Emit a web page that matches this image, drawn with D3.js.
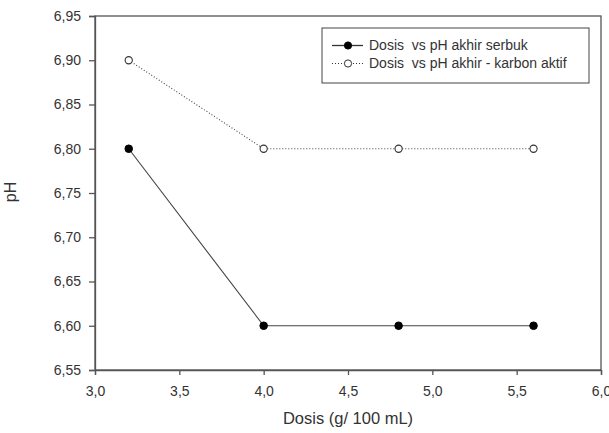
<!DOCTYPE html>
<html>
<head>
<meta charset="utf-8">
<script src="https://cdn.jsdelivr.net/npm/d3@7"></script>
<style>
  body { margin: 0; background: #fff; }
  svg text { font-family: "Liberation Sans", Arial, sans-serif; fill: #333; }
</style>
</head>
<body>
<div id="chart"></div>
<script>
// ── DATA ─────────────────────────────────────────────────────────────────────
const dosis        = [3.2, 4.0, 4.8, 5.6];
const phSerbuk     = [6.80, 6.60, 6.60, 6.60];
const phKarbon     = [6.90, 6.80, 6.80, 6.80];
const seriesNames  = ['Dosis  vs pH akhir serbuk', 'Dosis  vs pH akhir - karbon aktif'];
const xTicks       = [3.0, 3.5, 4.0, 4.5, 5.0, 5.5, 6.0];
const yTicks       = [6.55, 6.60, 6.65, 6.70, 6.75, 6.80, 6.85, 6.90, 6.95];

// ── DIMENSIONS ───────────────────────────────────────────────────────────────
const W = 609, H = 433;
const margin = { top: 16, right: 8, bottom: 63, left: 95 };
const width  = W - margin.left - margin.right;
const height = H - margin.top - margin.bottom;

const svg = d3.select('#chart').append('svg')
  .attr('width', W).attr('height', H)
  .append('g')
  .attr('transform', `translate(${margin.left},${margin.top})`);

// ── SCALES ───────────────────────────────────────────────────────────────────
const x = d3.scaleLinear().domain([3.0, 6.0]).range([0, width]);
const y = d3.scaleLinear().domain([6.55, 6.95]).range([height, 0]);

// frame (top and right)
svg.append('rect')
  .attr('width', width).attr('height', height)
  .attr('fill', 'none').attr('stroke', '#555').attr('stroke-width', 1.3);

// ── AXES ─────────────────────────────────────────────────────────────────────
const xAxis = svg.append('g')
  .attr('transform', `translate(0,${height})`)
  .call(d3.axisBottom(x).tickValues(xTicks).tickSize(5).tickPadding(11)
    .tickFormat(d => d.toFixed(1).replace('.', ',')));
const yAxis = svg.append('g')
  .call(d3.axisLeft(y).tickValues(yTicks).tickSize(6).tickPadding(8)
    .tickFormat(d => d.toFixed(2).replace('.', ',')));

[xAxis, yAxis].forEach(a => {
  a.select('.domain').attr('stroke', '#555').attr('stroke-width', 1.3);
  a.selectAll('.tick line').attr('stroke', '#555').attr('stroke-width', 1.3);
  a.selectAll('.tick text').style('font-size', '14px').attr('fill', '#333');
});

// axis titles
svg.append('text')
  .attr('x', width / 2).attr('y', 424 - margin.top)
  .attr('text-anchor', 'middle')
  .style('font-size', '16.5px')
  .text('Dosis (g/ 100 mL)');

svg.append('text')
  .attr('transform', 'rotate(-90)')
  .attr('x', -(height / 2) + 1).attr('y', -79.5)
  .attr('text-anchor', 'middle')
  .style('font-size', '16px')
  .text('pH');

// ── LINES ────────────────────────────────────────────────────────────────────
const serbuk = dosis.map((d, i) => ({ x: d, y: phSerbuk[i] }));
const karbon = dosis.map((d, i) => ({ x: d, y: phKarbon[i] }));
const line = d3.line().x(d => x(d.x)).y(d => y(d.y));

svg.append('path').datum(karbon)
  .attr('d', line).attr('fill', 'none')
  .attr('stroke', '#444').attr('stroke-width', 1.1)
  .attr('stroke-dasharray', '1,2');

svg.append('path').datum(serbuk)
  .attr('d', line).attr('fill', 'none')
  .attr('stroke', '#444').attr('stroke-width', 1.1);

svg.selectAll('.pt-karbon').data(karbon).join('circle')
  .attr('class', 'pt-karbon')
  .attr('cx', d => x(d.x)).attr('cy', d => y(d.y)).attr('r', 3.6)
  .attr('fill', '#fff').attr('stroke', '#333').attr('stroke-width', 1.1);

svg.selectAll('.pt-serbuk').data(serbuk).join('circle')
  .attr('class', 'pt-serbuk')
  .attr('cx', d => x(d.x)).attr('cy', d => y(d.y)).attr('r', 3.8)
  .attr('fill', '#000').attr('stroke', '#000');

// ── LEGEND ───────────────────────────────────────────────────────────────────
const leg = svg.append('g').attr('transform', `translate(${322 - margin.left},${28 - margin.top})`);
leg.append('rect')
  .attr('width', 267).attr('height', 55)
  .attr('fill', '#fff').attr('stroke', '#444').attr('stroke-width', 1);

seriesNames.forEach((name, i) => {
  const row = leg.append('g').attr('transform', `translate(0,${17.5 + i * 18})`);
  row.append('line')
    .attr('x1', 10).attr('x2', 41)
    .attr('stroke', '#333').attr('stroke-width', i === 0 ? 1.3 : 1)
    .attr('stroke-dasharray', i === 0 ? null : '1,2');
  row.append('circle')
    .attr('cx', 26).attr('r', 3.6)
    .attr('fill', i === 0 ? '#000' : '#fff')
    .attr('stroke', i === 0 ? '#000' : '#333');
  row.append('text')
    .attr('x', 47).attr('dy', '0.35em')
    .style('font-size', '14px').style('white-space', 'pre').attr('fill', '#222')
    .text(name);
});
</script>
</body>
</html>
